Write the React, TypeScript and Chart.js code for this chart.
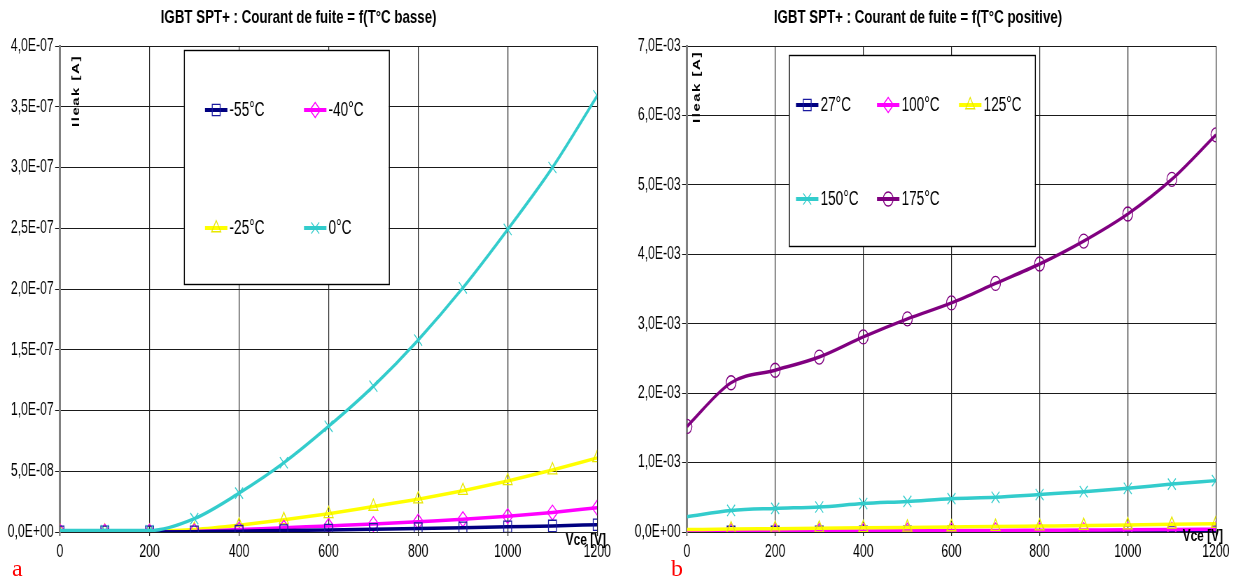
import { useEffect, useRef } from "react";
import { Chart, registerables } from "chart.js";
import { drawPoint } from "chart.js/helpers";

Chart.register(...registerables);

const FONT = "'Liberation Sans', Arial, sans-serif";
const S = 0.7; // horizontal compression of the canvases (narrow look)

// ---------- data ----------
const vce = [0, 100, 200, 300, 400, 500, 600, 700, 800, 900, 1000, 1100, 1200];
const xTickValues = [0, 200, 400, 600, 800, 1000, 1200];

// Chart a : low temperatures (A)
const titleA = "IGBT SPT+ : Courant de fuite = f(T°C basse)";
const labelsA = ["-55°C", "-40°C", "-25°C", "0°C"];
const iM55 = [0.1e-9, 0.1e-9, 0.1e-9, 0.2e-9, 0.7e-9, 1.2e-9, 1.7e-9, 2.2e-9, 2.8e-9, 3.5e-9, 4.3e-9, 5.0e-9, 6.0e-9];
const iM40 = [0.2e-9, 0.2e-9, 0.2e-9, 0.5e-9, 2.0e-9, 3.5e-9, 5.0e-9, 6.5e-9, 8.5e-9, 10.5e-9, 13e-9, 16e-9, 20e-9];
const iM25 = [0.5e-9, 0.5e-9, 0.5e-9, 2.0e-9, 5.5e-9, 10e-9, 15e-9, 21e-9, 27e-9, 34e-9, 42e-9, 51e-9, 61e-9];
const i0 = [1.2e-9, 1.2e-9, 1.2e-9, 11e-9, 32e-9, 57e-9, 87e-9, 120e-9, 158e-9, 201e-9, 249e-9, 300e-9, 359e-9];
const yTickValuesA = [0, 5e-8, 1e-7, 1.5e-7, 2e-7, 2.5e-7, 3e-7, 3.5e-7, 4e-7];
const yTickLabelsA = ["0,0E+00", "5,0E-08", "1,0E-07", "1,5E-07", "2,0E-07", "2,5E-07", "3,0E-07", "3,5E-07", "4,0E-07"];

// Chart b : positive temperatures (A)
const titleB = "IGBT SPT+ : Courant de fuite = f(T°C positive)";
const labelsB = ["27°C", "100°C", "125°C", "150°C", "175°C"];
const i27 = [0.001e-3, 0.001e-3, 0.001e-3, 0.002e-3, 0.002e-3, 0.002e-3, 0.003e-3, 0.003e-3, 0.003e-3, 0.004e-3, 0.004e-3, 0.005e-3, 0.005e-3];
const i100 = [0.008e-3, 0.01e-3, 0.012e-3, 0.014e-3, 0.016e-3, 0.018e-3, 0.02e-3, 0.022e-3, 0.025e-3, 0.028e-3, 0.031e-3, 0.035e-3, 0.04e-3];
const i125 = [0.035e-3, 0.042e-3, 0.048e-3, 0.054e-3, 0.06e-3, 0.066e-3, 0.072e-3, 0.078e-3, 0.085e-3, 0.092e-3, 0.1e-3, 0.11e-3, 0.12e-3];
const i150 = [0.22e-3, 0.31e-3, 0.34e-3, 0.36e-3, 0.41e-3, 0.44e-3, 0.48e-3, 0.5e-3, 0.54e-3, 0.58e-3, 0.63e-3, 0.69e-3, 0.74e-3];
const i175 = [1.52e-3, 2.15e-3, 2.33e-3, 2.52e-3, 2.81e-3, 3.07e-3, 3.30e-3, 3.58e-3, 3.86e-3, 4.19e-3, 4.58e-3, 5.08e-3, 5.72e-3];
const yTickValuesB = [0, 1e-3, 2e-3, 3e-3, 4e-3, 5e-3, 6e-3, 7e-3];
const yTickLabelsB = ["0,0E+00", "1,0E-03", "2,0E-03", "3,0E-03", "4,0E-03", "5,0E-03", "6,0E-03", "7,0E-03"];

// ---------- plugins ----------
const insideLegend = {
  id: "insideLegend",
  afterDraw(chart: any, _args: any, opts: any) {
    if (!opts || !opts.box) return;
    const ctx = chart.ctx;
    const [bx, by, bw, bh] = opts.box;
    ctx.save();
    ctx.fillStyle = "#ffffff";
    ctx.fillRect(bx, by, bw, bh);
    ctx.strokeStyle = "#000000";
    ctx.lineWidth = 1.4;
    ctx.strokeRect(bx + 0.5, by + 0.5, bw, bh);
    chart.data.datasets.forEach((ds: any, i: number) => {
      const it = opts.items[i];
      if (!it) return;
      const [x, y, r] = it;
      const len = 32;
      ctx.strokeStyle = ds.borderColor;
      ctx.lineWidth = 4;
      ctx.beginPath();
      ctx.moveTo(x, y);
      ctx.lineTo(x + len, y);
      ctx.stroke();
      ctx.strokeStyle = ds.pointBorderColor;
      ctx.fillStyle = "rgba(0,0,0,0)";
      ctx.lineWidth = 1.3;
      drawPoint(ctx, { pointStyle: ds.pointStyle, radius: r, rotation: 0, borderWidth: 1.3 } as any, x + len / 2, y);
      ctx.fillStyle = "#000000";
      ctx.font = `19.5px ${FONT}`;
      ctx.textBaseline = "middle";
      ctx.textAlign = "left";
      ctx.fillText(ds.label, x + len + 3, y + 1);
    });
    ctx.restore();
  },
};

const axisTitles = {
  id: "axisTitles",
  afterDraw(chart: any, _args: any, opts: any) {
    if (!opts || !opts.y) return;
    const ctx = chart.ctx;
    ctx.save();
    ctx.fillStyle = "#000000";
    ctx.font = `bold 15px ${FONT}`;
    ctx.textBaseline = "middle";
    ctx.textAlign = "center";
    ctx.save();
    ctx.translate(opts.y[0], opts.y[1]);
    ctx.rotate(-Math.PI / 2);
    (ctx as any).letterSpacing = "1.5px";
    ctx.fillText("Ileak [A]", 0, 0);
    ctx.restore();
    ctx.textAlign = "right";
    ctx.font = `bold 17px ${FONT}`;
    ctx.fillText("Vce [V]", opts.x[0], opts.x[1]);
    ctx.restore();
  },
};

function mk(label: string, values: number[], color: string, marker: string, style: any, r: number, skipFirst: boolean, order: number) {
  return {
    label,
    data: vce.map((v, i) => ({ x: v, y: values[i] })),
    borderColor: color,
    pointBorderColor: marker,
    pointBackgroundColor: "rgba(0,0,0,0)",
    pointStyle: style,
    pointRadius: skipFirst ? (c: any) => (c.dataIndex === 0 ? 0 : r) : r,
    pointBorderWidth: 1.3,
    borderWidth: 3.5,
    cubicInterpolationMode: "monotone",
    fill: false,
    order,
  };
}

function makeOptions(cfg: any) {
  return {
    animation: false,
    responsive: false,
    maintainAspectRatio: false,
    layout: { padding: { left: 0, right: cfg.padRight, top: 0, bottom: 0 } },
    plugins: {
      legend: { display: false },
      tooltip: { enabled: false },
      title: {
        display: true,
        text: cfg.title,
        color: "#000000",
        font: { family: FONT, size: 19, weight: "bold", lineHeight: 1.2 },
        padding: { top: 6, bottom: 17.2 },
      },
      insideLegend: cfg.legend,
      axisTitles: cfg.axisTitles,
    },
    scales: {
      x: {
        type: "linear",
        min: 0,
        max: 1200,
        afterFit(scale: any) {
          scale.height = 51;
        },
        afterBuildTicks(scale: any) {
          scale.ticks = xTickValues.map((v) => ({ value: v }));
        },
        ticks: {
          color: "#000000",
          font: { family: FONT, size: 17.5 },
          padding: 6,
          maxRotation: 0,
          callback: (v: any) => String(v),
        },
        grid: { color: "#222222", lineWidth: 1.2, tickLength: 4 },
        border: { color: "#222222", width: 1 },
      },
      y: {
        type: "linear",
        min: 0,
        max: cfg.yMax,
        afterFit(scale: any) {
          scale.width = cfg.yWidth;
        },
        afterBuildTicks(scale: any) {
          scale.ticks = cfg.yVals.map((v: number) => ({ value: v }));
        },
        ticks: {
          color: "#000000",
          font: { family: FONT, size: 17.5 },
          padding: 2,
          callback: (_v: any, i: number) => cfg.yLabels[i],
        },
        grid: { color: "#1a1a1a", lineWidth: 1, tickLength: 7 },
        border: { color: "#808080", width: 3 },
      },
    },
  };
}

const WA = 620;
const WB = 614;

function ChartA() {
  const ref = useRef<HTMLCanvasElement>(null);
  useEffect(() => {
    const chart = new Chart(ref.current as HTMLCanvasElement, {
      type: "line",
      data: {
        datasets: [
          mk(labelsA[0], iM55, "#000080", "#1a1aa0", "rect", 8, false, 1),
          mk(labelsA[1], iM40, "#ff00ff", "#ff00ff", "rectRot", 7.5, false, 2),
          mk(labelsA[2], iM25, "#ffff00", "#e8e800", "triangle", 7.5, false, 3),
          mk(labelsA[3], i0, "#33cccc", "#33cccc", "crossRot", 8, true, 0),
        ] as any,
      },
      options: makeOptions({
        title: titleA,
        padRight: 23 / S,
        yWidth: 60 / S,
        yMax: 4e-7,
        yVals: yTickValuesA,
        yLabels: yTickLabelsA,
        legend: {
          box: [184 / S, 50, 205 / S, 234],
          items: [
            [205 / S, 110, 8],
            [304 / S, 110, 7.5],
            [205 / S, 228, 7.5],
            [304 / S, 228, 8],
          ],
        },
        axisTitles: { y: [76 / S, 91], x: [606 / S, 540] },
      }) as any,
      plugins: [insideLegend, axisTitles],
    });
    return () => chart.destroy();
  }, []);
  return (
    <canvas
      ref={ref}
      width={Math.round(WA / S)}
      height={583}
      style={{ position: "absolute", left: 0, top: 0, transform: `scaleX(${S})`, transformOrigin: "0 0" }}
    />
  );
}

function ChartB() {
  const ref = useRef<HTMLCanvasElement>(null);
  useEffect(() => {
    const chart = new Chart(ref.current as HTMLCanvasElement, {
      type: "line",
      data: {
        datasets: [
          mk(labelsB[0], i27, "#000080", "#1a1aa0", "rect", 8, true, 4),
          mk(labelsB[1], i100, "#ff00ff", "#ff00ff", "rectRot", 7.5, true, 3),
          mk(labelsB[2], i125, "#ffff00", "#e8e800", "triangle", 7.5, true, 2),
          mk(labelsB[3], i150, "#33cccc", "#33cccc", "crossRot", 8, true, 1),
          mk(labelsB[4], i175, "#800080", "#800080", "circle", 7, false, 0),
        ] as any,
      },
      options: makeOptions({
        title: titleB,
        padRight: 18 / S,
        yWidth: 67 / S,
        yMax: 7e-3,
        yVals: yTickValuesB,
        yLabels: yTickLabelsB,
        legend: {
          box: [169 / S, 55, 246 / S, 191],
          items: [
            [176 / S, 105, 8],
            [257 / S, 105, 7.5],
            [339 / S, 105, 7.5],
            [176 / S, 199, 8],
            [257 / S, 199, 7],
          ],
        },
        axisTitles: { y: [77 / S, 87], x: [603 / S, 536] },
      }) as any,
      plugins: [insideLegend, axisTitles],
    });
    return () => chart.destroy();
  }, []);
  return (
    <canvas
      ref={ref}
      width={Math.round(WB / S)}
      height={583}
      style={{ position: "absolute", left: 620, top: 0, transform: `scaleX(${S})`, transformOrigin: "0 0" }}
    />
  );
}

const tagStyle: any = {
  position: "absolute",
  top: 556,
  fontFamily: "'Liberation Serif', 'DejaVu Serif', serif",
  fontSize: 24,
  color: "#ff0000",
  lineHeight: "24px",
};

export default function App() {
  return (
    <div style={{ position: "absolute", left: 0, top: 0, width: 1234, height: 583, background: "#ffffff", overflow: "hidden" }}>
      <ChartA />
      <ChartB />
      <span style={{ ...tagStyle, left: 12 }}>a</span>
      <span style={{ ...tagStyle, left: 671 }}>b</span>
    </div>
  );
}
